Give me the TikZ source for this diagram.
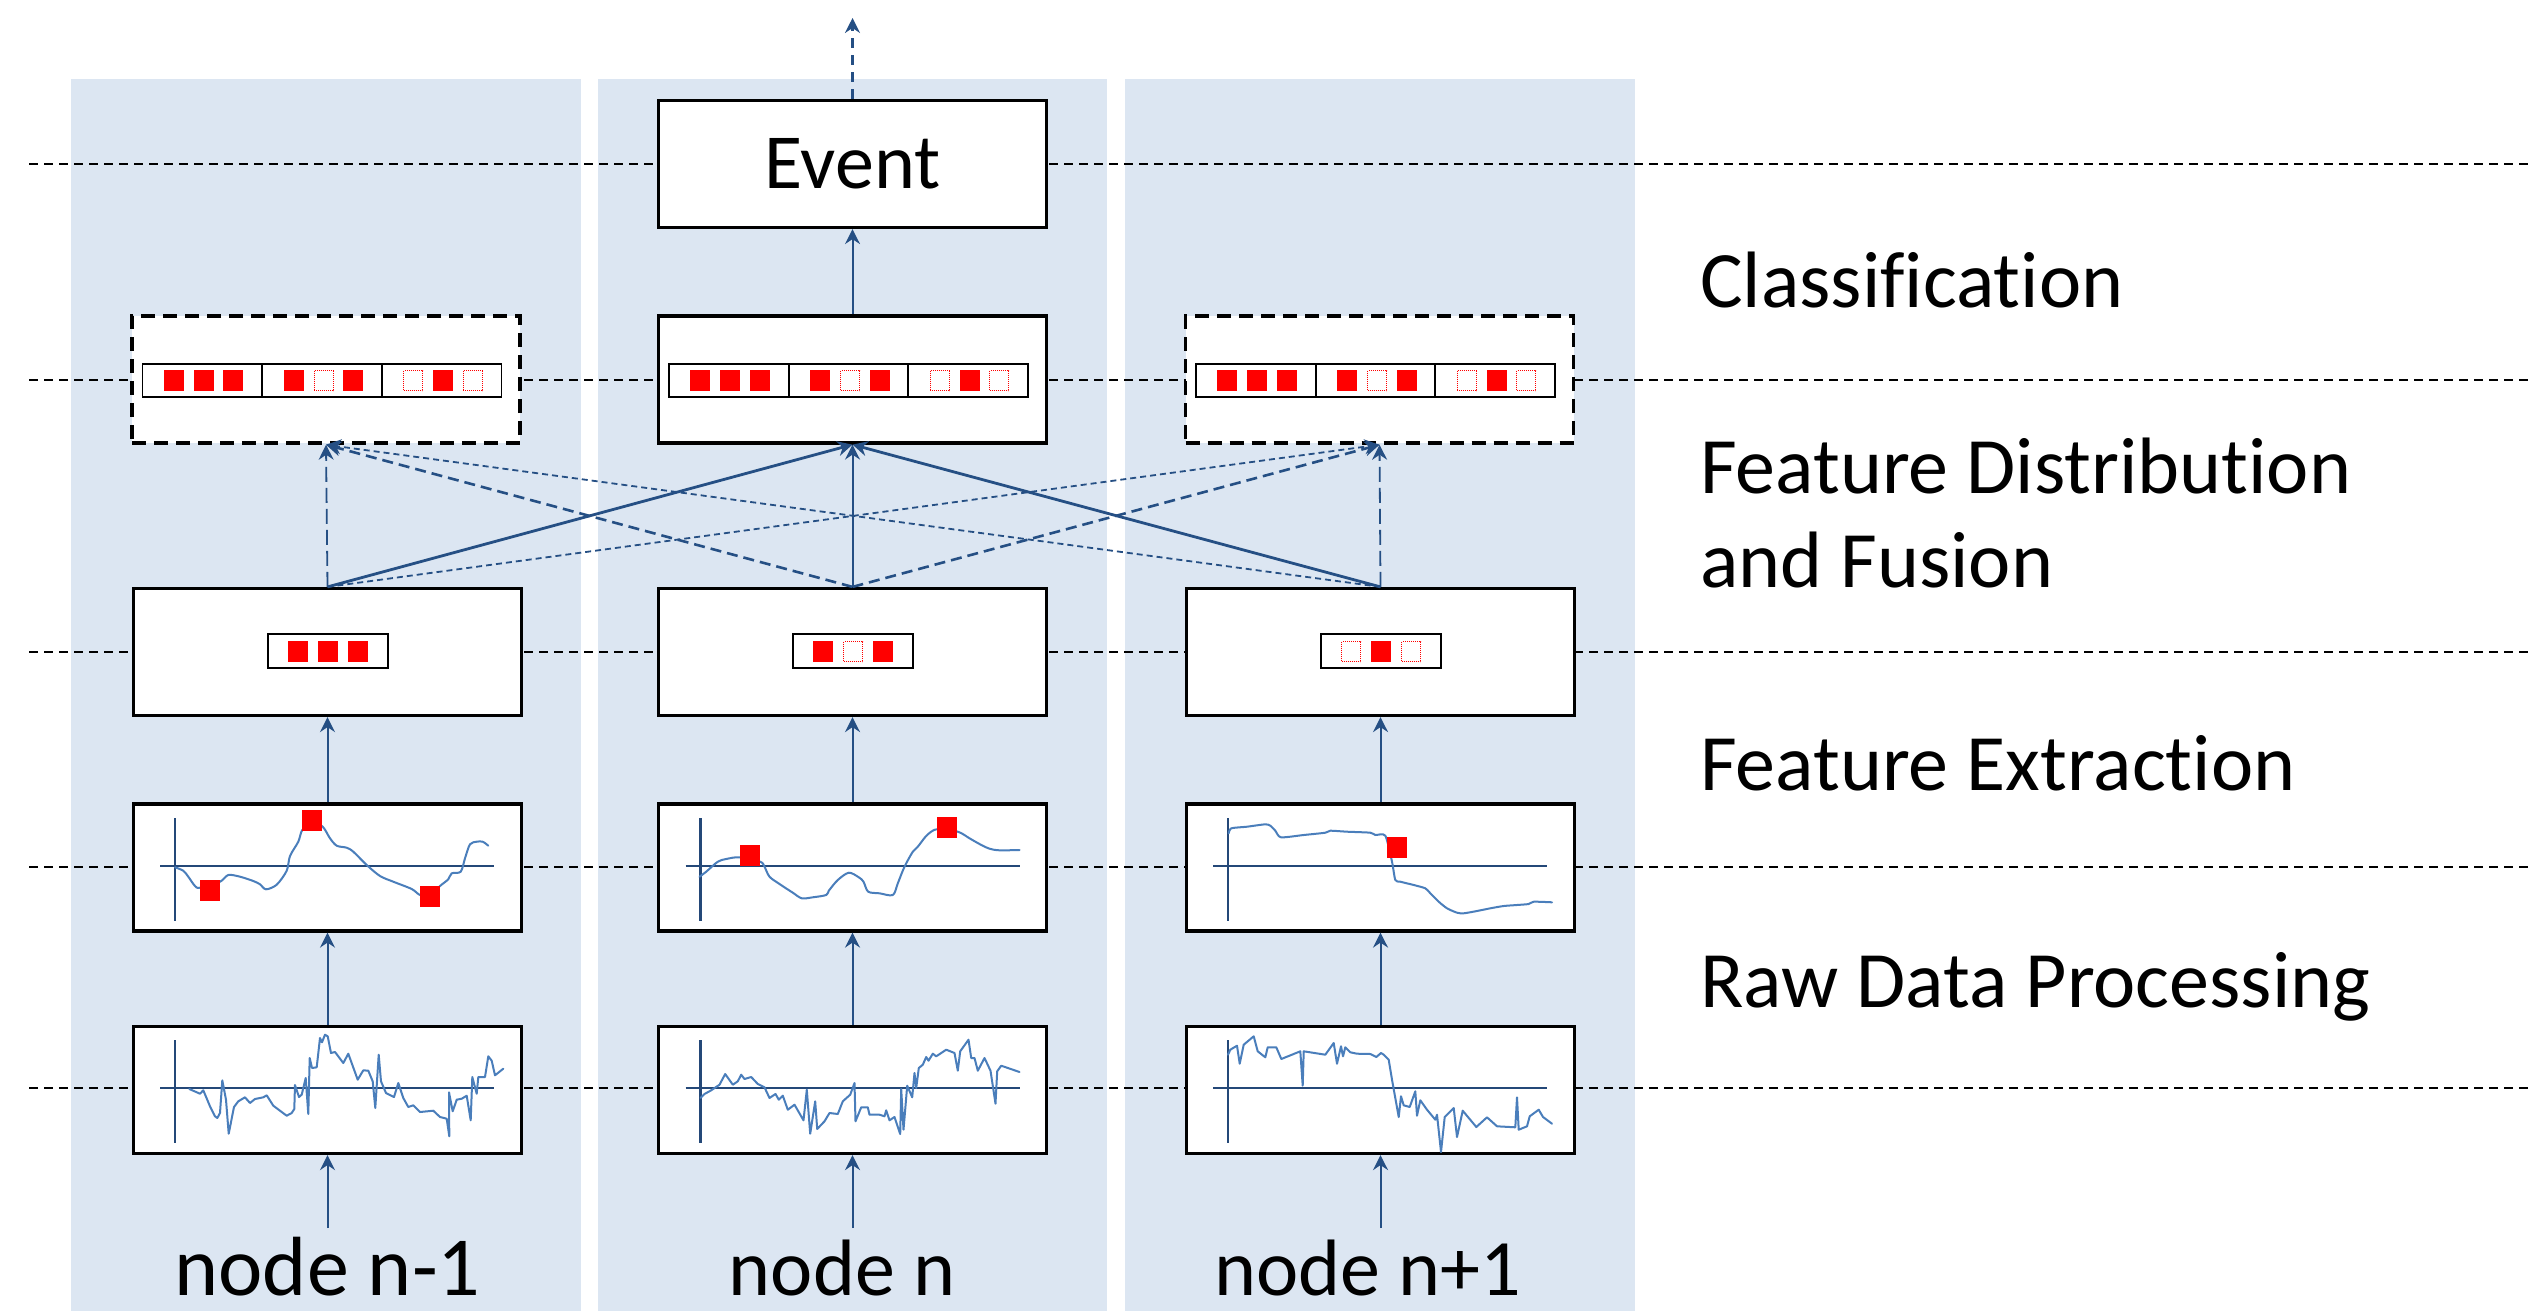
\documentclass[tikz,border=0pt]{standalone}
\usepackage{fontspec}
\setmainfont{Carlito}[RawFeature={-liga;-calt;-dlig}]
\usetikzlibrary{arrows.meta}
\definecolor{strip}{RGB}{220,230,242}
\definecolor{arr}{RGB}{37,79,132}
\definecolor{sig}{RGB}{74,126,187}
\definecolor{axcol}{RGB}{36,72,120}
\definecolor{fred}{RGB}{255,0,0}
\newcommand\redsq[2]{\fill[fred] (#1,#2) ++(-10,-10.5) rectangle ++(20,21);}
\newcommand\hollowsq[2]{\draw[esq] (#1,#2) ++(-9.5,-10) rectangle ++(19,20);}
\newcommand\fusionbar[1]{%
  \draw[bar] (#1-179.5,364) rectangle (#1+179.5,397);
  \draw[line width=1.8pt] (#1-59.8,364) -- (#1-59.8,397) (#1+59.8,364) -- (#1+59.8,397);
  \redsq{#1-119.7-28.5}{380.5}\redsq{#1-119.7+1.5}{380.5}\redsq{#1-119.7+31}{380.5}
  \redsq{#1-28.5}{380.5}\hollowsq{#1+1.5}{380.5}\redsq{#1+31}{380.5}
  \hollowsq{#1+119.7-28.5}{380.5}\redsq{#1+119.7+1.5}{380.5}\hollowsq{#1+119.7+31}{380.5}
}
\newcommand\featbar[4]{% center x, then three patterns
  \draw[bar] (#1-60,634) rectangle (#1+60,668);
  #2{#1-30}{651.5}#3{#1}{651.5}#4{#1+30}{651.5}
}
\begin{document}
\begin{tikzpicture}[x=1pt,y=-1pt,
  box/.style={draw=black, line width=3.2pt, fill=white, minimum width=388pt, minimum height=127pt, inner sep=0pt},
  dbox/.style={box, dash pattern=on 14pt off 8pt, line width=3.5pt},
  guide/.style={draw=black, line width=1.6pt, dash pattern=on 9pt off 6pt},
  flow/.style={draw=arr, line width=2pt, -{Stealth[length=15pt,width=15pt,inset=5pt]}},
  bar/.style={draw=black, line width=1.8pt, fill=white},
  esq/.style={draw=fred, line width=0.9pt, dash pattern=on 1pt off 1pt, fill=white},
  ax/.style={draw=axcol, line width=2.3pt},
  sigl/.style={draw=sig, line width=2pt, line join=round, line cap=round},
  rlbl/.style={font=\fontsize{80}{96}\selectfont, inner sep=0pt, anchor=base west},
  nlbl/.style={font=\fontsize{80}{96}\selectfont, inner sep=0pt, anchor=base},
]
\useasboundingbox (0,0) rectangle (2534,1311);
% strips
\fill[strip] (71,79) rectangle (581,1311);
\fill[strip] (598,79) rectangle (1107,1311);
\fill[strip] (1125,79) rectangle (1635,1311);
% guide lines
\foreach \yy in {164,380,652,867,1088} \draw[guide] (29,\yy) -- (2534,\yy);

% boxes
\node[box] (ev) at (852.5,164) {\fontsize{78}{90}\selectfont Event};
\node[dbox] (fd1) at (326,379.5) {};
\node[box]  (fd2) at (852.5,379.5) {};
\node[dbox] (fd3) at (1379.5,379.5) {};
\foreach \c/\x in {1/327.5,2/852.5,3/1380.5}{
  \node[box] (fe\c) at (\x,652) {};
  \node[box] (pr\c) at (\x,867.5) {};
  \node[box] (rw\c) at (\x,1090) {};
}

% labels
\node[rlbl] (t1) at (1700,307) {Classification};
\node[rlbl] (t2) at (1700,493) {Feature Distribution};
\node[rlbl] (t3) at (1700,587) {and Fusion};
\node[rlbl] (t4) at (1700,790) {Feature Extraction};
\node[rlbl] (t5) at (1700,1007) {Raw Data Processing};
\node[nlbl, font=\fontsize{84}{96}\selectfont] (n1) at (327.5,1295) {node n-1};
\node[nlbl] (n2) at (842,1295) {node n};
\node[nlbl] (n3) at (1368,1295) {node n+1};
\coordinate (s1) at (327.5,1228);
\coordinate (s2) at (852.5,1228);
\coordinate (s3) at (1380.5,1228);
\coordinate (out) at (852.5,18);

% vectors
\fusionbar{322}
\fusionbar{848.5}
\fusionbar{1375.5}
\featbar{328}{\redsq}{\redsq}{\redsq}
\featbar{853}{\redsq}{\hollowsq}{\redsq}
\featbar{1381}{\hollowsq}{\redsq}{\hollowsq}

% axes
\foreach \ax in {175,700.5,1228}{
  \foreach \ay in {866,1088}{
    \begin{scope}[shift={(\ax,\ay)}, yscale=-1]
      \draw[ax] (0,48) -- (0,-55);
      \draw[ax] (-15,0) -- (319,0);
    \end{scope}
  }
}
% processed col1
\begin{scope}[shift={(175,866)}, yscale=-1]
\draw[sigl] plot[smooth, tension=0.5] coordinates {(0,-1.3) (8.3,-4.7) (13.3,-10.7) (20,-20) (25,-21.7) (45,-15.7) (53.3,-9) (65,-10.7) (78.3,-15) (85,-18.3) (91,-23.3) (101.7,-18.7) (111.7,-4.7) (115,10) (123.3,24.3) (127.3,36) (137,44) (147.7,39.3) (155,27.7) (161.7,20.3) (171.7,18.3) (178.3,14.3) (191.7,1) (205,-10) (218.3,-15.7) (236.7,-23) (245,-29) (255,-30) (265,-20) (273.3,-13.3) (276.7,-7.3) (285.7,-5.7) (290,7.7) (295,21.7) (301.7,24.3) (307.7,24.3) (313.3,20.3)};
\redsq{34.7}{-24}\redsq{137.3}{45.3}\redsq{255.3}{-30.7}
\end{scope}
% raw col1
\begin{scope}[shift={(175,1088)}, yscale=-1]
\draw[sigl] (14.3,-1) -- (25,-5.7) -- (28.3,-2.3) -- (35,-18.3) -- (40,-28.3) -- (42.3,-30) -- (45,-25) -- (47.3,7.7) -- (51,-11.7) -- (53.7,-45.7) -- (59,-19) -- (63.3,-13.3) -- (70,-9.3) -- (75,-15) -- (80,-11) -- (88.3,-9.3) -- (91.7,-7.3) -- (98.3,-17.7) -- (105,-22.7) -- (111.7,-27.7) -- (116.7,-25) -- (119.3,-21) -- (120,3) -- (124,-9) -- (126.7,-6.7) -- (130.7,10) -- (133.3,-26) -- (134.7,30) -- (137,20) -- (141.7,20.7) -- (145,50) -- (147,45.7) -- (150,53.3) -- (152.7,51.7) -- (156,35) -- (160,36) -- (168.3,25) -- (173.3,34.3) -- (182.7,8.3) -- (188.3,17.7) -- (193.3,17.3) -- (197.7,6.7) -- (200.3,-20) -- (203.7,33.3) -- (206,6.7) -- (211,-5) -- (219,-9) -- (223.3,5) -- (228.3,-10) -- (233.3,-19) -- (238.3,-17.3) -- (245,-24) -- (258.3,-22.7) -- (265,-29) -- (271.7,-30.7) -- (274.3,-48.3) -- (274,-4.3) -- (277.7,-23.3) -- (281.7,-11.7) -- (286.7,-10.7) -- (291.7,-7.7) -- (295.7,-32.3) -- (297.3,11) -- (301.7,-5.7) -- (303.3,11) -- (310,11) -- (313.3,31.7) -- (316.7,27.3) -- (320,12.7) -- (328.3,19.3);
\end{scope}
% processed col2
\begin{scope}[shift={(700.5,866)}, yscale=-1]
\draw[sigl] plot[smooth, tension=0.5] coordinates {(-1,-10.7) (5.7,-5.7) (17.3,4.3) (25.7,7) (39,8.7) (59.7,4.3) (64,-0.7) (69,-10.7) (79,-18) (92.3,-26.7) (101.3,-32.3) (112.3,-31.3) (125.7,-29) (128.3,-24.7) (137.3,-14) (148.3,-6.7) (158.3,-11.3) (163,-15.7) (167.7,-25.7) (179,-27.3) (192.3,-29) (197.3,-17.3) (204,-0.7) (212.3,14.3) (217.3,19.3) (225,29.3) (230.7,34.3) (237.3,36.7) (257.3,34.3) (269,27.7) (279,22) (289,17.3) (299,15.7) (319,16)};
\redsq{49.3}{10.7}\redsq{246.7}{38.7}
\end{scope}
% raw col2
\begin{scope}[shift={(700.5,1088)}, yscale=-1]
\draw[sigl] (0,-10) -- (4,-6) -- (10.7,-2.3) -- (19,3.3) -- (24.7,14) -- (32.3,3.3) -- (37.3,6.7) -- (40.7,13.3) -- (44,9) -- (50.7,11) -- (57.3,4) -- (64,0.7) -- (69,-10) -- (75,-6) -- (78.3,-11.7) -- (82.3,-7.7) -- (87.3,-21.7) -- (94,-16.7) -- (103,-32.3) -- (106.3,-1.7) -- (109.7,-45.7) -- (114.7,-13.3) -- (116.7,-41) -- (124,-33.3) -- (129,-25) -- (137.3,-26) -- (142.3,-13.3) -- (149.7,-6.7) -- (154,5) -- (155,-33.3) -- (160.7,-19.3) -- (167.3,-19.3) -- (169,-26.7) -- (179,-26.7) -- (184,-28.3) -- (185.7,-22.3) -- (189,-32.3) -- (194,-29) -- (199.7,-46) -- (200.7,-1) -- (203,-41.7) -- (206.7,2.3) -- (211.7,-9.3) -- (214,15) -- (215.7,0) -- (218.3,20) -- (222.3,23.3) -- (225.7,31) -- (228,27.3) -- (232.3,34.3) -- (235.7,31.7) -- (245.7,38.3) -- (254,35) -- (257.3,17.3) -- (259.7,36.7) -- (268,48.3) -- (270.7,30) -- (274,30) -- (277.3,17.3) -- (284,30) -- (290,17.3) -- (295,-15.7) -- (296.7,16.7) -- (300.7,22.3) -- (319,16);
\end{scope}
% processed col3
\begin{scope}[shift={(1228,866)}, yscale=-1]
\draw[sigl] plot[smooth, tension=0.4] coordinates {(0.7,32.7) (3.3,37.7) (19,39.3) (37.3,41.7) (42.3,40.3) (47.3,35.3) (53,28.7) (75.7,31) (97.3,33.3) (102.3,35.3) (119,34.3) (142.3,33.3) (147.3,31) (157.3,30.3) (164,4.3) (167.3,-14) (172.3,-15.7) (185.7,-19) (197.3,-22.3) (202.3,-27.3) (210.7,-35.7) (219,-42.3) (229,-46.7) (235.7,-47.3) (249,-45) (262.3,-42.3) (275.7,-40) (289,-39) (300.7,-38) (305.7,-35.7) (324,-36.3)};
\redsq{169}{19}
\end{scope}
% raw col3
\begin{scope}[shift={(1228,1088)}, yscale=-1]
\draw[sigl] (0,33.3) -- (2.3,38.3) -- (9,42.3) -- (11.7,24.3) -- (15.7,43.3) -- (25.7,51.7) -- (29.7,36.7) -- (37.3,30.7) -- (39.7,40.7) -- (48.3,40.7) -- (53.3,29) -- (72.3,36.7) -- (74.7,2.3) -- (75.7,36.7) -- (97.3,33.3) -- (105.7,45) -- (109,24.3) -- (113,41.7) -- (115,31.7) -- (117.3,40.7) -- (122.3,35.7) -- (129,34.3) -- (142.3,34) -- (148.3,31) -- (153,35) -- (155.7,33.3) -- (160.7,28.3) -- (164,8.3) -- (170.7,-29) -- (173,-8.3) -- (175.7,-17.3) -- (181.7,-19) -- (187.3,-3.3) -- (189,-27.7) -- (192.3,-12.3) -- (199,-21.7) -- (207.3,-31.7) -- (209,-26.7) -- (213,-64) -- (216.7,-29) -- (225.7,-20) -- (229,-49) -- (234.7,-22.7) -- (248.3,-39) -- (259,-29.3) -- (269,-38.3) -- (287.3,-39.3) -- (289,-9.3) -- (290.7,-41.7) -- (299,-38.3) -- (301.7,-28.3) -- (310.7,-21.7) -- (315,-29) -- (324,-35.7);
\end{scope}

% vertical flows
\foreach \c in {1,2,3}{
  \draw[flow] (s\c) -- (rw\c.south);
  \draw[flow] (rw\c.north) -- (pr\c.south);
  \draw[flow] (pr\c.north) -- (fe\c.south);
}
\draw[flow] (fd2.north) -- (ev.south);
\draw[flow, line width=2.4pt, dash pattern=on 10pt off 7pt] (ev.north) -- (out);

% fan
\draw[flow, line width=1.8pt, dash pattern=on 15pt off 6pt] (fe1.north) -- (fd1.south);
\draw[flow, line width=2.8pt] (fe1.north) -- (fd2.south);
\draw[flow, line width=1.8pt, dash pattern=on 6pt off 4pt] (fe1.north) -- (fd3.south);
\draw[flow, line width=2.6pt, dash pattern=on 11pt off 6pt] (fe2.north) -- (fd1.south);
\draw[flow, line width=2pt] (fe2.north) -- (fd2.south);
\draw[flow, line width=2.6pt, dash pattern=on 11pt off 6pt] (fe2.north) -- (fd3.south);
\draw[flow, line width=1.8pt, dash pattern=on 6pt off 4pt] (fe3.north) -- (fd1.south);
\draw[flow, line width=2.8pt] (fe3.north) -- (fd2.south);
\draw[flow, line width=1.8pt, dash pattern=on 15pt off 6pt] (fe3.north) -- (fd3.south);
\end{tikzpicture}
\end{document}
